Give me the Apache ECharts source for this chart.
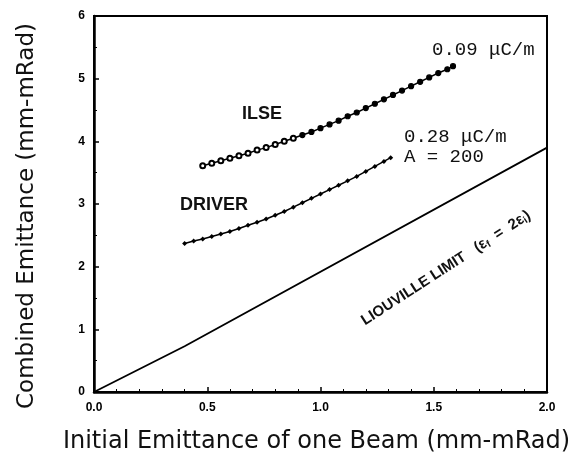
<!DOCTYPE html>
<html>
<head>
<meta charset="utf-8">
<script src="https://cdn.jsdelivr.net/npm/echarts@6/dist/echarts.min.js"></script>
<style>
  html, body { margin: 0; padding: 0; background: #fff; }
  #chart { width: 581px; height: 459px; }
</style>
</head>
<body>
<div id="chart"></div>
<script>
// ILSE curve (0.09 uC/m)
const ilseX = [0.48, 0.52, 0.56, 0.60, 0.64, 0.68, 0.72, 0.76, 0.80, 0.84, 0.88, 0.92, 0.96, 1.00,
  1.04, 1.08, 1.12, 1.16, 1.20, 1.24, 1.28, 1.32, 1.36, 1.40, 1.44, 1.48, 1.52, 1.56, 1.585]
const ilseY = [3.61, 3.65, 3.69, 3.73, 3.77, 3.81, 3.86, 3.90, 3.95, 4.00, 4.05, 4.10, 4.15, 4.21,
  4.27, 4.33, 4.40, 4.46, 4.53, 4.60, 4.67, 4.74, 4.81, 4.88, 4.95, 5.02, 5.09, 5.15, 5.20]

// DRIVER curve (0.28 uC/m, A = 200)
const driverX = [0.40, 0.44, 0.48, 0.52, 0.56, 0.60, 0.64, 0.68, 0.72, 0.76, 0.80, 0.84,
  0.88, 0.92, 0.96, 1.00, 1.04, 1.08, 1.12, 1.16, 1.20, 1.24, 1.28, 1.31]
const driverY = [2.37, 2.41, 2.44, 2.48, 2.52, 2.56, 2.61, 2.66, 2.71, 2.76, 2.82, 2.88,
  2.95, 3.02, 3.09, 3.16, 3.23, 3.30, 3.37, 3.44, 3.52, 3.60, 3.68, 3.74]

// Liouville limit
const limitX = [0, 0.4, 2.0]
const limitY = [0, 0.73, 3.9]

const xTicks = ['0.0', '0.5', '1.0', '1.5', '2.0']

const chart = echarts.init(document.getElementById('chart'))

const zip = (xs, ys) => xs.map((x, i) => [x, ys[i]])

// open markers on the lower part of the ILSE curve, filled further up
const ilseData = zip(ilseX, ilseY).map(p => ({
  value: p,
  symbol: p[0] < 0.92 ? 'emptyCircle' : 'circle'
}))

const tickFont = { fontFamily: 'Liberation Sans', fontWeight: 'bold', fontSize: 12, color: '#000' }

let option = {
  backgroundColor: '#fff',
  animation: false,
  grid: {
    left: 94, right: 34, top: 16, bottom: 67,
    show: true, borderColor: '#000', borderWidth: 2
  },
  xAxis: {
    type: 'value',
    min: 0, max: 2, interval: 0.5,
    name: 'Initial Emittance of one Beam (mm-mRad)',
    nameLocation: 'middle',
    nameGap: 38,
    nameTextStyle: { fontFamily: 'DejaVu Sans', fontSize: 24, color: '#111', padding: [0, 8, 0, 0] },
    axisLine: { lineStyle: { color: '#000', width: 2.5 } },
    axisTick: { inside: true, length: 5, lineStyle: { color: '#000', width: 1.5 } },
    minorTick: { show: true, splitNumber: 5, length: 3, lineStyle: { color: '#000' } },
    splitLine: { show: false },
    axisLabel: Object.assign({ margin: 10, formatter: v => xTicks[Math.round(v * 2)] }, tickFont)
  },
  yAxis: {
    type: 'value',
    min: 0, max: 6, interval: 1,
    name: 'Combined Emittance (mm-mRad)',
    nameLocation: 'middle',
    nameGap: 55,
    nameTextStyle: { fontFamily: 'DejaVu Sans', fontSize: 23, color: '#111', padding: [0, 24, 0, 0] },
    axisLine: { lineStyle: { color: '#000', width: 2.5 } },
    axisTick: { inside: true, length: 5, lineStyle: { color: '#000', width: 1.5 } },
    minorTick: { show: true, splitNumber: 2, length: 3, lineStyle: { color: '#000' } },
    splitLine: { show: false },
    axisLabel: Object.assign({ margin: 9 }, tickFont)
  },
  series: [
    {
      name: 'Liouville limit',
      type: 'line',
      data: zip(limitX, limitY),
      symbol: 'none',
      lineStyle: { color: '#000', width: 1.8 }
    },
    {
      name: 'ILSE',
      type: 'line',
      data: ilseData,
      symbolSize: 5,
      lineStyle: { color: '#000', width: 1.5 },
      itemStyle: { color: '#000', borderColor: '#000', borderWidth: 1.2 }
    },
    {
      name: 'DRIVER',
      type: 'line',
      data: zip(driverX, driverY),
      symbol: 'diamond',
      symbolSize: 5,
      lineStyle: { color: '#000', width: 1.5 },
      itemStyle: { color: '#000' }
    }
  ],
  graphic: [
    { type: 'text', left: 242, top: 105,
      style: { text: 'ILSE', font: 'bold 18px "Liberation Sans"', fill: '#111' } },
    { type: 'text', left: 180, top: 196,
      style: { text: 'DRIVER', font: 'bold 18px "Liberation Sans"', fill: '#111' } },
    { type: 'text', left: 432, top: 40,
      style: { text: '0.09 μC/m', font: '19px "Liberation Mono"', fill: '#111' } },
    { type: 'text', left: 404, top: 127,
      style: { text: '0.28 μC/m\nA = 200', font: '19px "Liberation Mono"', fill: '#111', lineHeight: 20 } },
    { type: 'text', x: 446, y: 268, rotation: 33 * Math.PI / 180,
      style: {
        text: '{n|LIOUVILLE LIMIT   (ε}{s|f}{n|  =  2ε}{s|i}{n|)}',
        align: 'center', verticalAlign: 'middle',
        rich: {
          n: { font: 'bold 15px "Liberation Sans"', fill: '#111' },
          s: { font: 'bold 10px "Liberation Sans"', fill: '#111', padding: [7, 0, 0, 0] }
        }
      } }
  ]
}

chart.setOption(option)
</script>
</body>
</html>
